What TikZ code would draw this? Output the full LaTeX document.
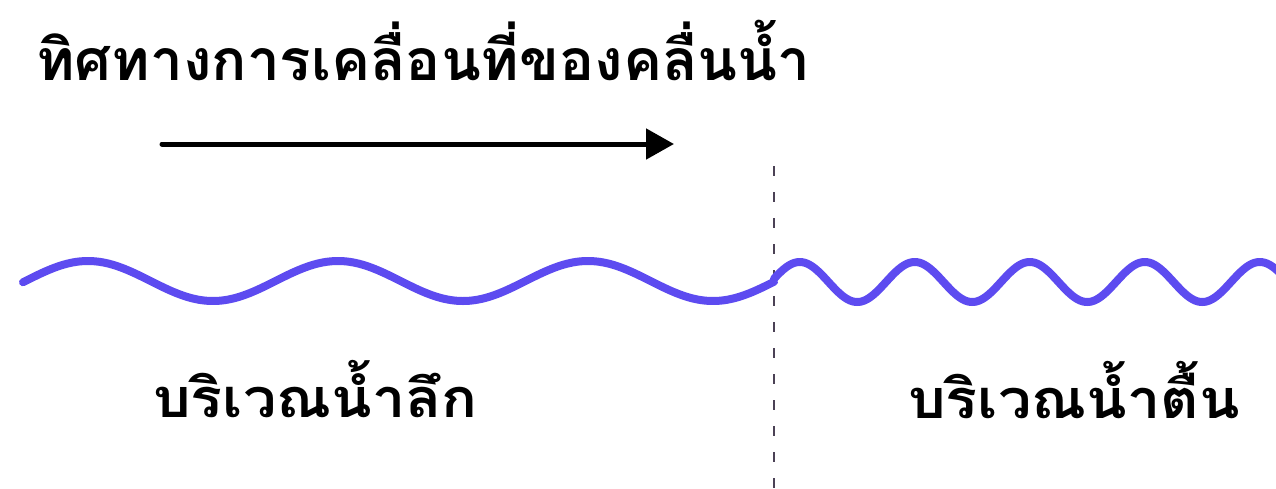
\documentclass[tikz,border=0pt]{standalone}
\usepackage{fontspec}
\newfontfamily\thaifont[Script=Thai]{Loma}
\usetikzlibrary{arrows.meta}
\definecolor{wavecol}{RGB}{93,75,240}
\definecolor{dashcol}{RGB}{75,65,85}
\tikzset{
  wave/.style={draw=wavecol, line width=8pt, line join=round, line cap=round},
  thailabel/.style={anchor=base west, inner sep=0pt, font=\thaifont\bfseries\fontsize{54}{64}\selectfont, xscale=1.1},
  thaititle/.style={anchor=base west, inner sep=0pt, font=\thaifont\bfseries\fontsize{57}{68}\selectfont, xscale=1.025},
  divider/.style={draw=dashcol, line width=2pt, dash pattern=on 10pt off 16pt},
  dirarrow/.style={draw=black, line width=5pt, line cap=round, -{Triangle[length=28pt,width=30pt]}}
}
\begin{document}
\begin{tikzpicture}[x=1pt,y=-1pt]
  \useasboundingbox[fill=white] (0,0) rectangle (1276,488);
  % heading
  \node[thaititle] (title) at (36,80) {ทิศทางการเคลื่อนที่ของคลื่นน้ำ};
  % direction of travel
  \coordinate (arrowstart) at (162,144);
  \coordinate (arrowend) at (674,144);
  \draw[dirarrow] (arrowstart) -- (arrowend);
  % boundary between deep and shallow water
  \coordinate (divtop) at (774,166);
  \coordinate (divbot) at (774,488);
  \draw[divider] (divtop) -- (divbot);
  % long wave in deep water (wavelength 250)
  \draw[wave] plot[domain=23:774, samples=240] (\x, {281 - 20*sin(1.44*(\x-25.5))});
  % short wave in shallow water (wavelength 115)
  \draw[wave] plot[domain=774:1280, samples=300] (\x, {282 - 20*sin(3.1304*(\x-771))});
  % region labels
  \node[thailabel] (deep) at (153,417) {บริเวณน้ำลึก};
  \node[thailabel] (shallow) at (908,418) {บริเวณน้ำตื้น};
\end{tikzpicture}
\end{document}
